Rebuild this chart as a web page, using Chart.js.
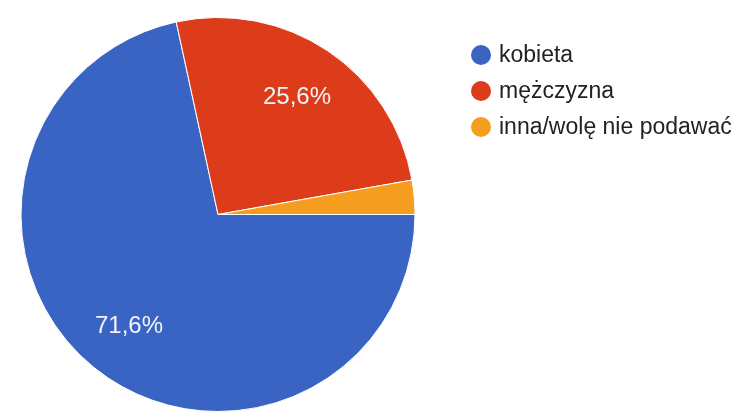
<!DOCTYPE html>
<html>
<head>
<meta charset="utf-8">
<script src="https://cdn.jsdelivr.net/npm/chart.js@4"></script>
<style>
  html, body { margin: 0; padding: 0; background: #fff; }
  #wrap { width: 740px; height: 412px; overflow: hidden; }
</style>
</head>
<body>
<div id="wrap"><canvas id="pieChart" width="740" height="412"></canvas></div>
<script>
const labels = ['kobieta', 'mężczyzna', 'inna/wolę nie podawać'];
const shares = [71.6, 25.6, 2.8];
const colors = ['#3a64c3', '#dc3c1a', '#f59d1e'];

// percent text inside the bigger slices
const sliceLabels = {
  id: 'sliceLabels',
  afterDatasetsDraw(chart) {
    const ctx = chart.ctx;
    const meta = chart.getDatasetMeta(0);
    ctx.save();
    ctx.fillStyle = '#f4f4f8';
    ctx.font = '24px "Liberation Sans", Arial, sans-serif';
    ctx.textAlign = 'center';
    ctx.textBaseline = 'middle';
    meta.data.forEach((arc, i) => {
      const v = shares[i];
      if (v < 5) return;
      const mid = (arc.startAngle + arc.endAngle) / 2;
      const r = arc.outerRadius * 0.72;
      const x = arc.x + Math.cos(mid) * r;
      const y = arc.y + Math.sin(mid) * r;
      ctx.fillText(v.toFixed(1).replace('.', ',') + '%', x, y + 1);
    });
    ctx.restore();
  }
};

// legend on the right, drawn by hand
const sideLegend = {
  id: 'sideLegend',
  afterDraw(chart) {
    const ctx = chart.ctx;
    ctx.save();
    ctx.font = '23px "Liberation Sans", Arial, sans-serif';
    ctx.textBaseline = 'middle';
    chart.data.labels.forEach((lab, i) => {
      const y = 55 + i * 36;
      ctx.fillStyle = chart.data.datasets[0].backgroundColor[i];
      ctx.beginPath();
      ctx.arc(481, y, 10, 0, Math.PI * 2);
      ctx.fill();
      ctx.fillStyle = '#222';
      ctx.fillText(lab, 499, y + 1);
    });
    ctx.restore();
  }
};

new Chart(document.getElementById('pieChart').getContext('2d'), {
  type: 'pie',
  data: {
    labels: labels,
    datasets: [{
      data: shares,
      backgroundColor: colors,
      borderColor: '#fff',
      borderWidth: 1
    }]
  },
  options: {
    responsive: false,
    animation: false,
    rotation: 90,
    layout: { padding: { left: 19, top: 17, right: 323, bottom: -3 } },
    plugins: {
      legend: { display: false },
      tooltip: { enabled: false }
    }
  },
  plugins: [sliceLabels, sideLegend]
});
</script>
</body>
</html>
